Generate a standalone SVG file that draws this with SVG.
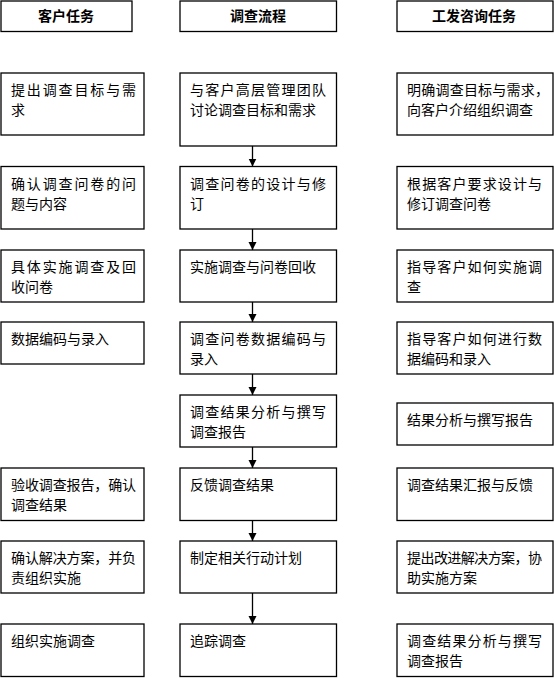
<svg xmlns="http://www.w3.org/2000/svg" width="554" height="678" viewBox="0 0 554 678">
<style>
.box{fill:#fff;stroke:#000;stroke-width:1.3}
.t{font-family:"Noto Sans CJK SC","Noto Sans",sans-serif;font-size:14px;fill:#000}
.h{font-family:"Noto Sans CJK SC","Noto Sans",sans-serif;font-size:14px;font-weight:bold;fill:#000;text-anchor:middle}
.c{stroke:#000;stroke-width:1.3;fill:none}
</style>
<defs>
<marker id="ah" markerUnits="userSpaceOnUse" markerWidth="8" markerHeight="10" refX="8" refY="4" orient="auto">
<path d="M0,0 L8,4 L0,8 Z" fill="#000"/>
</marker>
</defs>
<rect width="554" height="678" fill="#fff"/>
<g id="header-left"><rect class="box" x="1" y="1" width="131" height="30.5"/><text class="h" x="66" y="21">客户任务</text></g>
<g id="header-mid"><rect class="box" x="180" y="1" width="156.5" height="30.5"/><text class="h" x="258" y="21">调查流程</text></g>
<g id="header-right"><rect class="box" x="397" y="1" width="156" height="30.5"/><text class="h" x="474" y="21">工发咨询任务</text></g>

<g id="l1"><rect class="box" x="1" y="73" width="143" height="62"/><text class="t" x="11" y="95" textLength="125" lengthAdjust="spacing">提出调查目标与需</text><text class="t" x="11" y="115">求</text></g>
<g id="l2"><rect class="box" x="1" y="166.5" width="143" height="62.5"/><text class="t" x="11" y="188.5" textLength="125" lengthAdjust="spacing">确认调查问卷的问</text><text class="t" x="11" y="208.5">题与内容</text></g>
<g id="l3"><rect class="box" x="1" y="250" width="143" height="52"/><text class="t" x="11" y="272" textLength="125" lengthAdjust="spacing">具体实施调查及回</text><text class="t" x="11" y="292">收问卷</text></g>
<g id="l4"><rect class="box" x="1" y="322" width="143" height="42"/><text class="t" x="11" y="344">数据编码与录入</text></g>
<g id="l6"><rect class="box" x="1" y="468" width="143" height="52.5"/><text class="t" x="11" y="490" textLength="125" lengthAdjust="spacing">验收调查报告，确认</text><text class="t" x="11" y="510">调查结果</text></g>
<g id="l7"><rect class="box" x="1" y="541" width="143" height="52"/><text class="t" x="11" y="563" textLength="125" lengthAdjust="spacing">确认解决方案，并负</text><text class="t" x="11" y="583">责组织实施</text></g>
<g id="l8"><rect class="box" x="1" y="624" width="143" height="52.5"/><text class="t" x="11" y="646">组织实施调查</text></g>

<g id="m1"><rect class="box" x="180" y="73" width="156.5" height="73"/><text class="t" x="190" y="95" textLength="136" lengthAdjust="spacing">与客户高层管理团队</text><text class="t" x="190" y="115">讨论调查目标和需求</text></g>
<g id="m2"><rect class="box" x="180" y="166.5" width="156.5" height="62.5"/><text class="t" x="190" y="188.5" textLength="136" lengthAdjust="spacing">调查问卷的设计与修</text><text class="t" x="190" y="208.5">订</text></g>
<g id="m3"><rect class="box" x="180" y="250" width="156.5" height="52"/><text class="t" x="190" y="272">实施调查与问卷回收</text></g>
<g id="m4"><rect class="box" x="180" y="322" width="156.5" height="52"/><text class="t" x="190" y="344" textLength="136" lengthAdjust="spacing">调查问卷数据编码与</text><text class="t" x="190" y="364">录入</text></g>
<g id="m5"><rect class="box" x="180" y="395" width="156.5" height="52"/><text class="t" x="190" y="417" textLength="136" lengthAdjust="spacing">调查结果分析与撰写</text><text class="t" x="190" y="437">调查报告</text></g>
<g id="m6"><rect class="box" x="180" y="468" width="156.5" height="52.5"/><text class="t" x="190" y="490">反馈调查结果</text></g>
<g id="m7"><rect class="box" x="180" y="541" width="156.5" height="52"/><text class="t" x="190" y="563">制定相关行动计划</text></g>
<g id="m8"><rect class="box" x="180" y="624" width="156.5" height="52.5"/><text class="t" x="190" y="646">追踪调查</text></g>

<g id="r1"><rect class="box" x="397" y="73" width="156" height="62"/><text class="t" x="407" y="95" textLength="142" lengthAdjust="spacing">明确调查目标与需求，</text><text class="t" x="407" y="115">向客户介绍组织调查</text></g>
<g id="r2"><rect class="box" x="397" y="166.5" width="156" height="62.5"/><text class="t" x="407" y="188.5" textLength="135" lengthAdjust="spacing">根据客户要求设计与</text><text class="t" x="407" y="208.5">修订调查问卷</text></g>
<g id="r3"><rect class="box" x="397" y="250" width="156" height="52"/><text class="t" x="407" y="272" textLength="135" lengthAdjust="spacing">指导客户如何实施调</text><text class="t" x="407" y="292">查</text></g>
<g id="r4"><rect class="box" x="397" y="322" width="156" height="52"/><text class="t" x="407" y="344" textLength="135" lengthAdjust="spacing">指导客户如何进行数</text><text class="t" x="407" y="364">据编码和录入</text></g>
<g id="r5"><rect class="box" x="397" y="403" width="156" height="42"/><text class="t" x="407" y="425">结果分析与撰写报告</text></g>
<g id="r6"><rect class="box" x="397" y="468" width="156" height="52.5"/><text class="t" x="407" y="490">调查结果汇报与反馈</text></g>
<g id="r7"><rect class="box" x="397" y="541" width="156" height="52"/><text class="t" x="407" y="563" textLength="135" lengthAdjust="spacing">提出改进解决方案，协</text><text class="t" x="407" y="583">助实施方案</text></g>
<g id="r8"><rect class="box" x="397" y="624" width="156" height="52.5"/><text class="t" x="407" y="646" textLength="135" lengthAdjust="spacing">调查结果分析与撰写</text><text class="t" x="407" y="666">调查报告</text></g>

<g id="connectors">
<line class="c" x1="252.5" y1="146" x2="252.5" y2="166.5" marker-end="url(#ah)"/>
<line class="c" x1="252.5" y1="229" x2="252.5" y2="250" marker-end="url(#ah)"/>
<line class="c" x1="252.5" y1="302" x2="252.5" y2="322" marker-end="url(#ah)"/>
<line class="c" x1="252.5" y1="374" x2="252.5" y2="395" marker-end="url(#ah)"/>
<line class="c" x1="252.5" y1="447" x2="252.5" y2="468" marker-end="url(#ah)"/>
<line class="c" x1="252.5" y1="520.5" x2="252.5" y2="541" marker-end="url(#ah)"/>
<line class="c" x1="252.5" y1="593" x2="252.5" y2="624" marker-end="url(#ah)"/>
</g>
</svg>
